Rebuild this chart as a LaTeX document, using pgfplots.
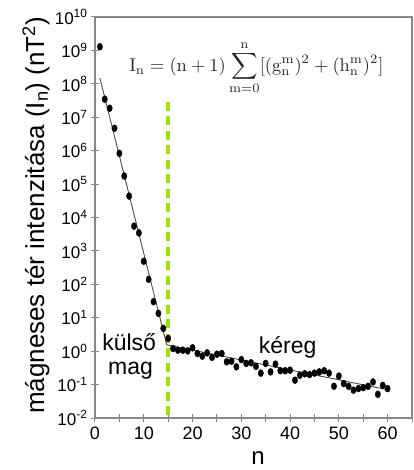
\documentclass[border=0pt]{standalone}
\usepackage[no-math]{fontspec}
\setmainfont{Liberation Sans}
\usepackage{graphicx}
\usepackage{pgfplots}
\usepackage{pgfplotstable}
\pgfplotsset{compat=1.18}
\definecolor{limeg}{RGB}{155,228,0}
\definecolor{axgray}{RGB}{135,135,135}
\pgfplotstableread{
n y
1 1.29e9
2 3.47e7
3 1.86e7
4 4.68e6
5 8.32e5
6 1.74e5
7 4.37e4
8 5.50e3
9 3.47e3
10 490
11 141
12 30.2
13 13.5
14 4.79
15 2.40
16 1.20
17 1.07
18 1.07
19 1.02
20 1.26
21 0.85
22 0.71
23 0.89
24 0.65
25 0.81
26 0.85
27 0.48
28 0.50
29 0.34
30 0.56
31 0.43
32 0.45
33 0.35
34 0.22
35 0.43
36 0.24
37 0.41
38 0.26
39 0.26
40 0.27
41 0.135
42 0.19
43 0.21
44 0.20
45 0.22
46 0.24
47 0.26
48 0.22
49 0.089
50 0.18
51 0.107
52 0.089
53 0.068
54 0.076
55 0.081
56 0.089
57 0.12
58 0.051
59 0.095
60 0.076
}\datatable
\begin{document}
\begin{tikzpicture}
\begin{axis}[
  scale only axis,
  width=317bp, height=401bp,
  xmin=0, xmax=65,
  ymode=log, log basis y=10,
  ymin=1e-2, ymax=1e10,
  xtick={0,10,20,30,40,50,60},
  minor xtick={5,15,25,35,45,55,65},
  ytick={1e-2,1e-1,1,10,100,1e3,1e4,1e5,1e6,1e7,1e8,1e9,1e10},
  yticklabels={10\textsuperscript{-2},10\textsuperscript{-1},10\textsuperscript{0},10\textsuperscript{1},10\textsuperscript{2},10\textsuperscript{3},10\textsuperscript{4},10\textsuperscript{5},10\textsuperscript{6},10\textsuperscript{7},10\textsuperscript{8},10\textsuperscript{9},10\textsuperscript{10}},
  yminorticks=false,
  xtick pos=bottom, ytick pos=left,
  tick align=center,
  major tick length=8bp, minor tick length=8bp,
  every tick/.style={axgray, line width=1bp},
  axis line style={axgray, line width=1.2bp},
  /pgf/number format/assume math mode=true,
  xticklabel style={font=\fontsize{18bp}{20bp}\selectfont, yshift=-1bp},
  yticklabel style={font=\fontsize{17bp}{19bp}\selectfont},
  xlabel={n},
  xlabel style={font=\fontsize{24bp}{26bp}\selectfont, at={(axis description cs:0.514,-0.1)}, anchor=center},
  ylabel={mágneses tér intenzitása (I\textsubscript{n}) (nT\textsuperscript{2})},
  ylabel style={font=\fontsize{26bp}{28bp}\selectfont, at={(axis description cs:-0.186,0.505)}, anchor=center},
  clip=false,
]
\addplot[limeg, line width=4bp, dash pattern=on 9bp off 5.5bp] coordinates {(15,2.9e7) (15,1e-2)};
\addplot[black!70, line width=0.9bp] coordinates {(1,1.5e8) (14.7,1.55) (60,0.07)};
\addplot[only marks, mark=*, mark size=2.8bp, mark options={fill=black, draw=black, yscale=1.25, xscale=0.95}] table[x=n, y=y] {\datatable};
\node[anchor=base, font=\fontsize{23bp}{25bp}\selectfont] at (axis cs:7.0,1.07) {külső};
\node[anchor=base, font=\fontsize{23bp}{25bp}\selectfont] at (axis cs:7.3,0.204) {mag};
\node[anchor=base, font=\fontsize{23bp}{25bp}\selectfont] at (axis cs:39.5,0.85) {kéreg};
\node[anchor=center, text=black!85, inner sep=0pt] at (axis cs:33.1,3.0e8)
  {\scalebox{1.85}{$\displaystyle \mathrm{I_n} = (\mathrm{n}+1)\sum_{\mathrm{m}=0}^{\mathrm{n}}[(\mathrm{g}_\mathrm{n}^\mathrm{m})^2+(\mathrm{h}_\mathrm{n}^\mathrm{m})^2]$}};
\end{axis}
\path (current axis.south west) ++(-95bp,-52bp) rectangle ++(414bp,470bp);
\end{tikzpicture}
\end{document}
